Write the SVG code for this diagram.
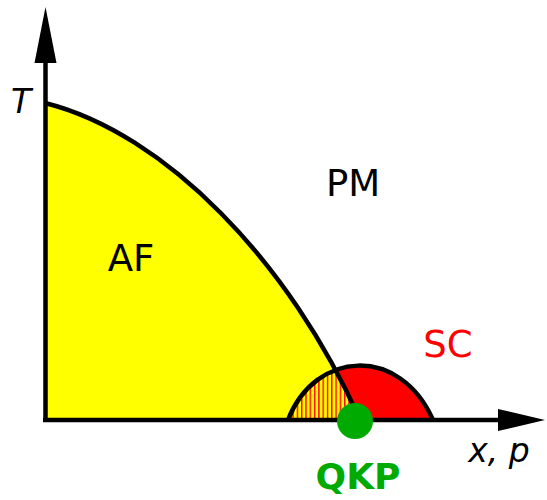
<svg xmlns="http://www.w3.org/2000/svg" width="547" height="500" viewBox="0 0 547 500">
<style>
.lbl{font-family:"DejaVu Sans","Liberation Sans",sans-serif;font-size:37px;}
.ln{fill:none;stroke:#000;stroke-width:4.5;}
</style>
<defs>
<pattern id="hatch" patternUnits="userSpaceOnUse" width="4.3" height="10">
<rect width="4.3" height="10" fill="#ffff00"/>
<rect x="0" width="1.4" height="10" fill="#ff0000"/>
</pattern>
<clipPath id="afclip">
<path d="M45,103 C165,133 290,262 360,420 L45,420 Z"/>
</clipPath>
</defs>
<rect width="547" height="500" fill="#fff"/>
<g id="af">
<path d="M45,103 C165,133 290,262 360,420 L45,420 Z" fill="#ffff00"/>
</g>
<g id="sc">
<path d="M288,420 C315,350 400,345 433,420 Z" fill="#ff0000"/>
<path d="M288,420 C315,350 400,345 433,420 Z" fill="url(#hatch)" clip-path="url(#afclip)"/>
</g>
<g id="boundaries">
<path d="M45,103 C165,133 290,262 360,420" class="ln"/>
<path d="M288,420 C315,350 400,345 433,420" class="ln"/>
</g>
<g id="axes">
<line x1="45.5" y1="422" x2="45.5" y2="58" stroke="#000" stroke-width="4.5"/>
<polygon points="45.5,7 34.5,63 56.5,63" fill="#000"/>
<line x1="43" y1="420" x2="502" y2="420" stroke="#000" stroke-width="4.5"/>
<polygon points="545,420 498,409 498,431" fill="#000"/>
</g>
<g id="qkp">
<circle cx="355" cy="421" r="18" fill="#00aa00"/>
<text x="358" y="489" text-anchor="middle" class="lbl" style="font-weight:bold;font-size:36px" fill="#00aa00">QKP</text>
</g>
<g id="labels">
<text x="11" y="113" class="lbl" font-style="italic" style="font-size:33px">T</text>
<text x="353" y="196" text-anchor="middle" class="lbl">PM</text>
<text x="131" y="271" text-anchor="middle" class="lbl">AF</text>
<text x="448" y="357" text-anchor="middle" class="lbl" fill="#ff0000">SC</text>
<text x="499" y="462" text-anchor="middle" class="lbl" font-style="italic" style="font-size:33px">x, p</text>
</g>
</svg>
